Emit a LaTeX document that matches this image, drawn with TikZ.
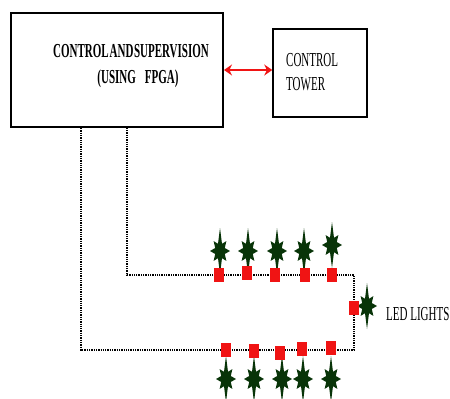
\documentclass[tikz,border=0pt]{standalone}
\usepackage{fontspec}
\setmainfont{Liberation Serif}
\usepackage{graphicx}
\usetikzlibrary{arrows.meta}

\definecolor{ledgreen}{RGB}{8,52,8}
\definecolor{ledred}{RGB}{240,20,20}
\newcommand{\tallrow}[1]{\scalebox{1}[1.8]{#1}}

\tikzset{
  box/.style={draw,minimum width=#1},
  wire/.style={line width=1.3pt,dash pattern=on 1.3pt off 1pt},
  led/.style={fill=ledred,minimum width=9.5pt,minimum height=14pt,inner sep=0pt},
  txt/.style={inner sep=0pt,font=\fontsize{11}{13}\selectfont},
  ledstar/.pic={
    \fill[ledgreen] (0:10 and 10)
      \foreach \a/\rx/\ry in {45/9/14,90/10/23,135/9/14,180/10/10,225/9/14,270/10/23,315/9/14}
        { -- (\a-22.5:5.2 and 7.8) -- (\a:{\rx} and {\ry}) } -- (337.5:5.2 and 7.8) -- cycle;
  }
}

\begin{document}
\begin{tikzpicture}[x=1pt,y=-1pt]
    \useasboundingbox (0,0) rectangle (450,399);
    \node[box=212pt,line width=2pt,minimum height=114pt] (ctrl) at (117,70) {};
    \node[box=94pt,line width=1.5pt,minimum height=88pt] (tower) at (320,73) {};
    \node[txt,anchor=base,font=\fontsize{11}{13}\selectfont\bfseries] (ctrlone) at (131,57) {\tallrow{CONTROL\hspace{1pt}AND\hspace{0.5pt}SUPERVISION}};
    \node[txt,anchor=base,font=\fontsize{11}{13}\selectfont\bfseries] (ctrltwo) at (138,83) {\tallrow{(USING\hspace{9pt}FPGA)}};
    \node[txt,anchor=base west] (towerone) at (286,66) {\tallrow{CONTROL}};
    \node[txt,anchor=base west] (towertwo) at (286,90) {\tallrow{TOWER}};
    \draw[ledred,line width=2.8pt,{Stealth[length=8pt,width=11pt]}-{Stealth[length=8pt,width=11pt]}]
      (ctrl.east) -- (ctrl.east -| tower.west);
    % wiring loop
    \coordinate (wa) at (81,0 |- ctrl.south);
    \coordinate (wb) at (127,0 |- ctrl.south);
    \coordinate (wc) at (81,350);
    \coordinate (wd) at (354,350);
    \coordinate (we) at (354,275);
    \coordinate (wf) at (127,275);
    \draw[wire] (wa) -- (wc) -- (wd) -- (we) -- (wf) -- (wb);
    % leds
    \foreach \x/\y in {220/251,248/251,277/251,304/251,332/245}
      \pic at (\x,\y) {ledstar};
    \foreach \x/\y in {226/379,254/379,282/379,303/379,331/379}
      \pic at (\x,\y) {ledstar};
    \pic at (367,306) {ledstar};
    \foreach \x/\y [count=\i] in {219/275,247/273,275/275,305/275,332/275}
      \node[led] (top\i) at (\x,\y) {};
    \foreach \x/\y [count=\i] in {226/350,254/351,280/353,302/349,331/348}
      \node[led] (bot\i) at (\x,\y) {};
    \node[led] (side) at (354,308) {};
    \node[txt,anchor=base west] (ledtxt) at (386,320) {\tallrow{LED LIGHTS}};
\end{tikzpicture}
\end{document}
